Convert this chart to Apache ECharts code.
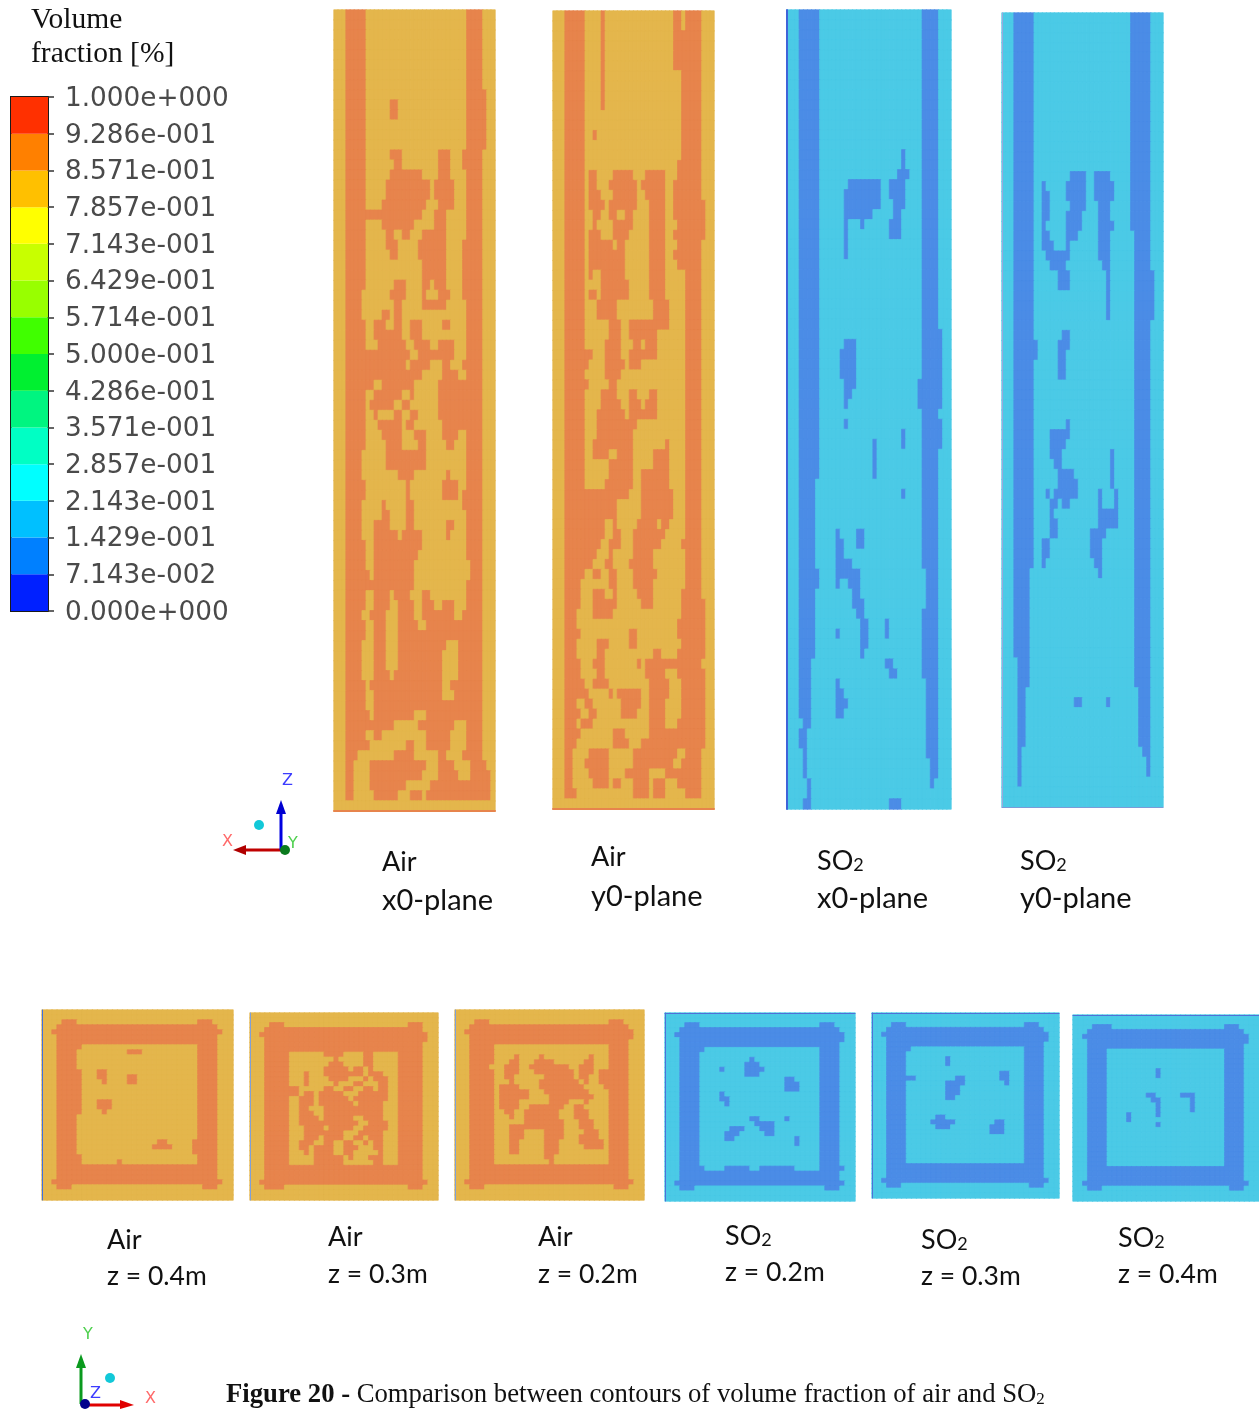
<!DOCTYPE html>
<html><head><meta charset="utf-8">
<style>html,body{margin:0;padding:0;background:#fff}#c{width:1259px;height:1409px}</style>
<script src="https://cdn.jsdelivr.net/npm/echarts@6/dist/echarts.min.js"></script>
</head><body><div id="c"></div>
<script>
// Level values of the contour bands
const AIR_LOW = 0.82, AIR_HIGH = 0.89, SO2_LOW = 0.18, SO2_HIGH = 0.11;
const COLOR_AIR_LOW = '#E4B64C', COLOR_AIR_HIGH = '#E7844C', COLOR_SO2_LOW = '#4BCAE6', COLOR_SO2_HIGH = '#4B8CE6';

// Each row lists the cell ranges (start-end, end exclusive) that hold the higher band; all others hold the lower band.
const airX0 = ["3-8,33-37","3-8,33-37","3-8,33-37","3-8,33-37","3-8,33-37","3-8,33-37","3-8,33-37","3-8,33-37","3-8,33-38",
"3-8,14-16,33-38","3-8,14-16,33-38","3-8,33-38","3-8,33-38","3-8,33-38","3-8,14-17,26-29,32-37","3-8,15-17,26-29,32-37",
"3-8,14-22,26-29,33-37","3-8,13-24,25-30,33-37","3-8,13-24,25-30,33-37","3-8,12-23,26-30,33-37","3-22,25-28,33-37",
"3-8,12-20,25-28,33-37","3-8,13-15,17-19,22-28,33-37","3-8,13-16,21-28,32-37","3-8,14-16,21-28,32-37","3-8,22-28,32-37",
"3-8,22-28,32-37","3-8,15-18,22-24,25-28,32-37","3-7,14-18,22-23,26-29,32-37","3-7,15-17,22-28,33-37","3-7,12-14,15-17,33-37",
"3-8,10-13,15-17,19-22,27-29,33-37","3-8,10-17,19-22,33-37","3-8,11-18,20-24,26-30,33-37","3-19,21-30,33-37",
"3-18,19-24,27-29,32-37","3-22,27-31,33-37","3-10,12-20,26-37","3-8,10-17,19-20,26-37","3-8,9-15,17-19,26-37",
"3-8,10-11,15-17,19-21,26-37","3-8,11-17,18-20,27-37","3-8,12-17,20-23,27-31,33-37","3-8,13-17,21-23,28-30,33-37",
"3-7,13-23,33-37","3-7,13-23,33-37","3-7,16-20,28-29,33-37","3-8,18-19,27-31,33-37","3-8,18-19,27-31,32-37",
"3-7,12-13,18-20,32-37","3-7,12-14,18-20,33-37","3-7,10-14,18-20,28-30,33-37","3-7,10-16,17-22,28-29,33-37","3-8,10-22,33-37",
"3-8,10-21,33-37","3-8,10-20,34-37","3-9,10-20,34-37","3-20,33-37","3-8,10-14,15-19,22-24,33-37","3-8,10-14,16-20,22-25,27-30,33-37",
"3-7,9-13,16-20,22-30,32-37","3-8,10-13,16-21,23-37","3-8,10-13,16-37","3-7,10-13,16-28,31-37","3-7,10-13,16-27,31-37",
"3-7,10-13,16-27,31-37","3-7,10-14,15-27,31-37","3-8,9-27,29-37","3-8,10-27,30-37","3-8,10-37","3-9,10-20,23-37",
"3-15,21-30,33-37","3-8,10-12,23-29,33-37","3-9,18-20,23-29,33-37","3-6,15-20,26-28,32-37","3-5,9-23,26-30,34-38",
"3-5,9-22,26-31,34-39","3-5,9-18,24-39","3-5,10-16,19-22,23-39",""];

const airY0 = ["3-8,12-13,30-32,33-37","3-8,12-13,30-32,33-37","3-8,12-13,30-37","3-8,12-13,30-37","3-8,12-13,30-37","3-8,12-13,30-37",
"3-8,12-13,32-37","3-8,12-13,32-37","3-8,12-13,32-37","3-8,12-13,32-37","3-8,32-37","3-8,32-37","3-8,10-11,32-37","3-8,32-37","3-8,32-37",
"3-8,31-37","3-8,9-11,15-20,23-28,31-37","3-8,9-11,14-21,22-28,30-37","3-8,9-12,15-21,23-28,30-37","3-8,9-13,14-21,24-28,30-38",
"3-8,10-12,14-16,18-20,24-28,30-38","3-8,10-11,15-20,24-28,31-38","3-8,9-12,15-19,24-28,30-38","3-8,9-15,16-18,24-28,31-37",
"3-8,9-18,24-28,30-37","3-8,9-18,24-28,31-37","3-8,9-10,12-18,24-28,33-37","3-8,12-19,24-28,33-37","3-8,9-11,12-19,24-28,33-37",
"3-8,11-16,25-29,33-37","3-8,11-16,25-29,33-37","3-8,14-17,19-25,25-29,33-37","3-8,14-17,19-26,33-37","3-8,13-17,20-22,23-26,33-37",
"3-10,13-17,19-26,33-37","3-9,13-18,19-22,33-37","3-8,13-17,33-37","3-9,14-16,33-37","3-8,12-16,19-21,24-26,33-37",
"3-8,12-17,19-22,23-26,33-37","3-8,11-18,19-26,33-37","3-8,11-21,33-37","3-8,11-20,33-37","3-8,10-20,28-29,33-37",
"3-8,10-14,16-20,25-29,33-37","3-8,14-20,25-29,33-37","3-8,14-20,22-29,33-37","3-8,13-20,22-29,33-37","3-19,22-30,33-37",
"3-16,22-30,33-37","3-16,22-30,33-37","3-13,15-16,21-26,27-29,33-37","3-13,15-17,20-28,33-37","3-12,14-17,20-27,32-37",
"3-11,14-15,20-25,33-37","3-10,13-15,19-25,33-37","3-8,10-12,14-16,20-26,33-37","3-7,14-16,20-25,33-37","3-7,10-13,15-16,21-25,32-37",
"3-7,10-16,22-25,32-38","3-6,10-15,32-38","3-6,31-38","3-7,19-21,31-38","3-6,11-14,19-21,32-38","3-6,11-13,25-27,31-38",
"3-7,10-13,21-22,23-37","3-7,11-13,23-28,31-38","3-8,10-14,24-29,32-38","3-9,14-15,16-22,24-29,32-38","3-6,8-10,17-22,24-28,32-38",
"3-7,9-11,17-21,24-28,32-38","3-6,7-10,24-28,31-38","3-7,15-18,24-38","3-6,15-19,22-38","3-5,9-14,20-31,33-37","3-5,8-14,20-30,32-37",
"3-5,9-14,18-24,28-37","3-5,10-14,15-17,20-24,25-28,31-37","3-6,20-24,25-28,33-37",""];

const so2X0 = ["3-8,33-37","3-8,33-37","3-8,33-37","3-8,33-37","3-8,33-37","3-8,33-37","3-8,33-37","3-8,33-37","3-8,33-37","3-8,33-37",
"3-8,33-37","3-8,33-37","3-8,33-37","3-8,33-37","3-8,28-29,33-37","3-8,28-29,33-37","3-8,27-30,33-37","3-8,15-23,25-29,33-37",
"3-8,14-23,25-29,33-37","3-8,14-23,26-29,33-37","3-8,14-21,26-28,33-37","3-8,14-15,18-19,25-28,33-37","3-8,14-15,25-28,33-37",
"3-8,14-15,33-37","3-8,14-15,33-37","3-8,33-37","3-8,33-37","3-8,33-37","3-8,33-37","3-8,33-37","3-8,33-37","3-8,33-37","3-8,33-38",
"3-8,14-17,33-38","3-8,13-17,33-38","3-8,13-17,33-38","3-8,13-17,33-38","3-8,14-17,32-38","3-8,14-16,32-38","3-8,14-15,32-38",
"3-8,33-37","3-8,14-15,33-38","3-8,28-29,33-38","3-8,21-22,28-29,33-38","3-8,21-22,33-37","3-8,21-22,33-37","3-8,21-22,33-37",
"3-7,33-37","3-7,28-29,33-37","3-7,33-37","3-7,33-37","3-7,33-37","3-7,12-13,17-19,33-37","3-7,12-14,17-19,33-37","3-7,12-14,33-37",
"3-7,12-16,33-37","3-8,12-18,34-37","3-8,12-13,15-18,34-37","3-7,16-18,34-37","3-7,16-19,34-37","3-7,17-19,33-37","3-7,18-20,24-25,33-37",
"3-7,12-13,18-20,24-25,33-37","3-7,18-20,33-37","3-7,18-19,33-37","3-6,24-26,33-37","3-6,25-27,33-37","3-6,12-13,34-37","3-6,12-14,34-37",
"3-6,12-15,34-37","3-6,12-14,34-37","4-6,34-37","3-5,34-37","3-5,34-37","4-5,34-37","4-5,35-37","4-5,35-37","5-6,35-36","5-6","4-6,25-28"];

const so2Y0 = ["3-8,32-37","3-8,32-37","3-8,32-37","3-8,32-37","3-8,32-37","3-8,32-37","3-8,32-37","3-8,32-37","3-8,32-37","3-8,32-37",
"3-8,32-37","3-8,32-37","3-8,32-37","3-8,32-37","3-8,32-37","3-8,32-37","3-8,17-21,23-27,32-37","3-8,10-11,16-21,23-28,32-37",
"3-8,10-12,16-21,23-28,32-37","3-8,10-12,17-21,24-27,32-37","3-8,10-12,16-20,24-27,32-37","3-8,10-11,16-20,24-28,32-37",
"3-8,10-12,16-19,24-27,33-37","3-8,10-13,16-17,24-27,33-37","3-8,11-17,24-27,33-37","3-8,12-16,25-27,33-37","3-8,14-17,26-27,33-38",
"3-8,14-17,26-27,33-38","3-8,26-27,33-38","3-8,26-27,33-38","3-8,26-27,33-38","3-8,33-37","3-8,15-17,33-37","3-9,14-17,33-37",
"3-9,14-16,33-37","3-8,14-16,33-37","3-8,14-16,33-37","3-8,33-37","3-8,33-37","3-8,33-37","3-8,33-37","3-8,16-17,33-37","3-8,12-17,33-37",
"3-8,12-16,33-37","3-8,12-15,27-28,33-37","3-8,13-15,27-28,33-37","3-8,14-18,27-28,33-37","3-8,14-19,27-28,33-37",
"3-8,11-12,13-19,24-25,28-29,33-37","3-8,12-14,15-17,24-25,28-29,33-37","3-8,12-13,24-29,33-37","3-8,12-14,24-29,33-37",
"3-8,12-14,22-26,33-37","3-8,10-12,22-25,33-37","3-8,10-12,22-25,33-37","3-8,10-11,23-25,33-37","3-7,24-25,33-37","3-7,33-37","3-7,33-37",
"3-7,33-37","3-7,33-37","3-7,33-37","3-7,33-37","3-7,33-37","3-7,33-37","4-7,33-37","4-7,33-37","4-7,33-37","4-6,34-37","4-6,18-20,26-27,34-37",
"4-6,34-37","4-6,34-37","4-6,34-37","4-6,34-37","4-5,35-37","4-5,36-37","4-5,36-37","4-5","",""];

const airZ04 = ["","","4-7,31-34","3-35","2-36","3-35","3-35","3-8,31-35","3-7,17-20,31-35","3-7,31-35","3-7,31-35","3-7,31-35","3-8,11-13,31-35",
"3-8,11-13,17-19,31-35","3-8,12-13,17-19,31-35","3-8,31-35","3-8,31-35","3-8,31-35","3-8,11-14,31-35","3-8,11-14,31-35","3-8,12-13,31-35",
"3-7,31-35","3-7,31-35","3-7,31-35","3-7,31-35","3-7,31-35","3-7,23-25,30-35","3-7,22-26,30-35","3-7,30-35","3-8,31-35","3-8,15-16,31-35",
"3-35","3-35","3-35","2-36","3-6,32-35","",""];

const airZ03 = ["","","4-7,32-35","3-35","2-36","3-36","3-35","3-35","3-8,15-19,23-25,30-35","3-8,17-18,23-25,30-35","3-8,16-19,23-25,30-35",
"3-8,15-20,21-23,24-25,30-35","3-8,11-12,15-21,21-23,24-27,30-35","3-8,11-12,16-20,23-24,25-28,30-35","3-8,11-12,17-18,21-23,26-28,30-35",
"3-10,15-17,19-21,23-25,26-28,30-35","3-10,11-13,14-19,22-28,30-35","3-8,10-13,14-20,21-28,30-35","3-8,10-13,14-21,22-27,30-35",
"3-8,10-12,15-27,30-35","3-8,10-13,15-27,30-35","3-8,10-14,15-21,23-27,30-35","3-8,10-15,15-22,24-28,30-35","3-8,11-15,16-21,23-28,30-35",
"3-8,11-19,22-27,30-35","3-8,11-14,15-19,21-23,24-27,30-35","3-8,10-13,15-17,19-21,23-24,25-27,30-35","3-8,10-12,13-17,19-22,25-27,30-35",
"3-8,11-12,13-17,19-21,26-27,30-35","3-8,13-19,20-21,24-27,30-35","3-8,13-19,25-27,30-35","3-35","3-35","3-35","2-36","3-7,32-35","",""];

const airZ02 = ["","","4-7,31-34","3-35","2-36","3-36","3-35","3-8,31-35","3-8,31-35","3-8,12-13,17-18,27-28,31-35","3-8,11-13,16-20,26-28,31-35",
"3-7,10-13,15-23,25-28,31-35","3-8,10-13,16-24,25-28,29-35","3-8,10-12,18-24,25-27,29-35","3-8,11-12,17-25,26-27,29-35","3-8,9-13,17-26,30-35",
"3-8,9-15,18-27,31-35","3-8,9-15,19-28,31-35","3-8,9-13,19-23,26-27,31-35","3-8,9-13,15-22,24-26,31-35","3-8,10-12,14-21,24-27,31-35",
"3-8,11-12,14-21,24-27,31-35","3-8,14-22,25-28,31-35","3-8,11-22,25-28,31-35","3-8,11-14,18-22,26-29,31-35","3-8,11-14,18-22,25-29,31-35",
"3-8,11-13,18-21,25-30,31-35","3-8,11-13,18-21,26-30,31-35","3-8,11-13,18-21,31-35","3-8,18-20,31-35","3-8,19-20,31-35",
"3-35","3-35","3-35","2-36","3-6,32-35","",""];

const so2Z02 = ["","","4-7,31-34","3-35","2-36","3-36","3-35","3-8,31-35","3-7,31-35","3-7,17-18,31-35","3-7,16-19,31-35","3-7,11-12,16-20,31-35",
"3-7,16-19,31-35","3-7,24-26,31-35","3-7,24-27,31-35","3-7,24-27,31-35","3-7,11-12,31-35","3-7,11-13,31-35","3-7,12-13,31-35","3-7,31-35","3-7,31-35",
"3-7,17-19,24-25,31-35","3-7,18-22,31-35","3-7,13-16,19-22,31-35","3-7,12-15,20-22,31-35","3-7,12-14,26-27,31-35","3-7,26-27,31-35","3-7,31-35",
"3-7,31-35","3-7,31-35","3-7,31-35","3-8,12-17,19-26,31-36","3-35","3-35","2-36","3-6,32-35","",""];

const so2Z03 = ["","","4-7,31-34","3-35","2-36","3-36","3-35","3-8,31-35","3-7,31-35","3-7,15-16,31-35","3-7,15-16,31-35","3-7,31-35","3-7,26-28,31-35",
"3-9,17-19,26-28,31-35","3-7,15-19,27-28,31-35","3-7,15-18,31-35","3-7,15-18,31-35","3-7,15-17,31-35","3-7,31-35","3-7,31-35","3-7,31-35",
"3-7,13-15,31-35","3-7,12-17,25-27,31-35","3-7,13-16,24-27,31-35","3-7,24-27,31-35","3-7,31-35","3-7,31-35","3-7,31-35","3-7,31-35","3-7,31-35",
"3-7,31-35","3-35","3-35","3-35","2-36","3-6,32-35","",""];

const so2Z04 = ["","","4-8,31-34","3-35","2-36","3-36","3-35","3-7,31-35","3-7,31-35","3-7,31-35","3-7,31-35","3-7,17-18,31-35","3-7,17-18,31-35",
"3-7,31-35","3-7,31-35","3-7,31-35","3-7,15-17,22-25,31-35","3-7,16-18,24-25,31-35","3-7,17-18,24-25,31-35","3-7,17-18,24-25,31-35",
"3-7,11-12,17-18,31-35","3-7,11-12,31-35","3-7,17-18,31-35","3-7,31-35","3-7,31-35","3-7,31-35","3-7,31-35","3-7,31-35","3-7,31-35","3-7,31-35",
"3-7,31-35","3-35","3-35","3-35","2-36","3-6,32-35","",""];

// Colour scale of the legend
const legendTickLabels = ["0.000e+000","7.143e-002","1.429e-001","2.143e-001","2.857e-001","3.571e-001","4.286e-001","5.000e-001","5.714e-001","6.429e-001","7.143e-001","7.857e-001","8.571e-001","9.286e-001","1.000e+000"];
const legendLevels = [0.07143,0.07143,0.07143,0.07143,0.07143,0.07143,0.07143,0.07143,0.07143,0.07143,0.07143,0.07143,0.07143,0.07143];
const legendColors = ["#0020FF","#0080FF","#00C0FF","#00FFFF","#00FFC4","#00F580","#00F030","#40FF00","#98FF00","#C8FF00","#FFFF00","#FFC000","#FF8000","#FF3000"];

// Panels: mask, columns, band levels, placement
const panels = [
 {rows:airX0,cols:40,n:80,lo:AIR_LOW,hi:AIR_HIGH,cl:COLOR_AIR_LOW,ch:COLOR_AIR_HIGH,box:[334,10,161,801],bottom:[COLOR_AIR_HIGH,2]},
 {rows:airY0,cols:40,n:80,lo:AIR_LOW,hi:AIR_HIGH,cl:COLOR_AIR_LOW,ch:COLOR_AIR_HIGH,box:[553,11,161,798],bottom:[COLOR_AIR_HIGH,2]},
 {rows:so2X0,cols:40,n:80,lo:SO2_LOW,hi:SO2_HIGH,cl:COLOR_SO2_LOW,ch:COLOR_SO2_HIGH,box:[787,10,164,799],left:['#3F63D8',2]},
 {rows:so2Y0,cols:40,n:80,lo:SO2_LOW,hi:SO2_HIGH,cl:COLOR_SO2_LOW,ch:COLOR_SO2_HIGH,box:[1002,13,161,794],left:['#9AA8DC',1],bottom:['#7C9BD8',1]},
 {rows:airZ04,cols:38,n:38,lo:AIR_LOW,hi:AIR_HIGH,cl:COLOR_AIR_LOW,ch:COLOR_AIR_HIGH,box:[42,1010,191,190],left:['#3F6FE0',1]},
 {rows:airZ03,cols:38,n:38,lo:AIR_LOW,hi:AIR_HIGH,cl:COLOR_AIR_LOW,ch:COLOR_AIR_HIGH,box:[250,1013,188,187],left:['#7FA0D8',1]},
 {rows:airZ02,cols:38,n:38,lo:AIR_LOW,hi:AIR_HIGH,cl:COLOR_AIR_LOW,ch:COLOR_AIR_HIGH,box:[455,1010,189,190],left:['#7FA0D8',1]},
 {rows:so2Z02,cols:38,n:38,lo:SO2_LOW,hi:SO2_HIGH,cl:COLOR_SO2_LOW,ch:COLOR_SO2_HIGH,box:[665,1013,190,188],left:['#4F70D8',1],top:['#4F70D8',1]},
 {rows:so2Z03,cols:38,n:38,lo:SO2_LOW,hi:SO2_HIGH,cl:COLOR_SO2_LOW,ch:COLOR_SO2_HIGH,box:[872,1013,187,185],left:['#4F70D8',1],top:['#4F70D8',1]},
 {rows:so2Z04,cols:38,n:38,lo:SO2_LOW,hi:SO2_HIGH,cl:COLOR_SO2_LOW,ch:COLOR_SO2_HIGH,box:[1073,1015,186,186],top:['#4F70D8',1]}
];

// Text labels under the panels: first line, second line, x, y1, y2, second-line font size
const LATO = 'Lato';
const panelLabels = [
 ['Air','x0-plane',382,862,901,29],['Air','y0-plane',591,857,897,29],['SO2','x0-plane',817,861,899,29],['SO2','y0-plane',1020,861,899,29],
 ['Air','z = 0.4m',107,1240,1276,26.5],['Air','z = 0.3m',328,1237,1274,26.5],['Air','z = 0.2m',538,1237,1274,26.5],
 ['SO2','z = 0.2m',725,1236,1272,26.5],['SO2','z = 0.3m',921,1240,1276,26.5],['SO2','z = 0.4m',1118,1238,1274,26.5]
];

function cellsFromRows(p){
  const out=[];
  for(let r=0;r<p.n;r++){
    const line=new Array(p.cols).fill(false);
    (p.rows[r]||'').split(',').filter(Boolean).forEach(s=>{
      const [a,b]=s.split('-').map(Number);
      for(let c=a;c<b&&c<p.cols;c++) line[c]=true;
    });
    for(let c=0;c<p.cols;c++) out.push({value:[c,r,line[c]?p.hi:p.lo],itemStyle:{color:line[c]?p.ch:p.cl,borderColor:line[c]?p.ch:p.cl,borderWidth:0.7}});
  }
  return out;
}
const idx=n=>Array.from({length:n},(_,i)=>i);
const grid=[],xAxis=[],yAxis=[],series=[];
panels.forEach((p,i)=>{
  grid.push({left:p.box[0],top:p.box[1],width:p.box[2],height:p.box[3],containLabel:false});
  const xl=p.bottom||p.top;
  xAxis.push({type:'category',gridIndex:i,data:idx(p.cols),z:10,position:p.top?'top':'bottom',
    axisLabel:{show:false},axisTick:{show:false},splitLine:{show:false},splitArea:{show:false},
    axisLine:{show:!!xl,onZero:false,lineStyle:xl?{color:xl[0],width:xl[1]}:{}}});
  yAxis.push({type:'category',gridIndex:i,inverse:true,data:idx(p.n),z:10,
    axisLabel:{show:false},axisTick:{show:false},splitLine:{show:false},splitArea:{show:false},
    axisLine:{show:!!p.left,onZero:false,lineStyle:p.left?{color:p.left[0],width:p.left[1]}:{}}});
  series.push({type:'heatmap',xAxisIndex:i,yAxisIndex:i,data:cellsFromRows(p),
    progressive:0,silent:true,animation:false,emphasis:{disabled:true}});
});
const heatIdx=series.map((_,i)=>i);
// Legend colour bar
const g=panels.length;
grid.push({left:11,top:97,width:37,height:514,show:true,borderColor:'#1a1a1a',borderWidth:2,backgroundColor:'#fff',containLabel:false});
xAxis.push({type:'category',gridIndex:g,data:['band'],axisLabel:{show:false},axisTick:{show:false},axisLine:{show:false},splitLine:{show:false}});
yAxis.push({type:'value',gridIndex:g,position:'right',min:0,max:1,interval:1/14,
  axisLine:{show:false},splitLine:{show:false},
  axisTick:{show:true,length:6,lineStyle:{color:'#333',width:1.5}},
  axisLabel:{show:true,margin:17,color:'#4a4a4a',fontFamily:'DejaVu Sans',fontSize:26.3,verticalAlign:'top',lineHeight:4,showMinLabel:true,showMaxLabel:true,
    formatter:v=>legendTickLabels[Math.round(v*14)]||''}});
legendLevels.forEach((v,i)=>series.push({type:'bar',xAxisIndex:g,yAxisIndex:g,stack:'legend',barWidth:'100%',data:[v],
  itemStyle:{color:legendColors[i]},silent:true,animation:false}));

// Text and orientation triads
const graphic=[];
function txt(x,y,text,font,fill,rich){
  graphic.push({type:'text',x,y,silent:true,z:50,style:{text,font,fill:fill||'#111',verticalAlign:'middle',align:'left',rich}});
}
txt(31,20,'Volume','29.5px "Liberation Serif"','#111');
txt(31,54,'fraction [%]','29.5px "Liberation Serif"','#111');
const labelFont='27px '+LATO;
function firstLine(s){return s==='SO2'?'{m|SO}{s|2}':s;}
const labelRich={m:{font:labelFont,fill:'#111'},s:{font:'18px '+LATO,fill:'#111',verticalAlign:'bottom'}};
panelLabels.forEach(l=>{
  txt(l[2],l[3],firstLine(l[0]),labelFont,'#111',labelRich);
  txt(l[2],l[4],l[1],l[5]+'px '+LATO,'#111');
});
txt(226,1395,'{b|Figure 20 - }{r|Comparison between contours of volume fraction of air and SO}{s|2}','26.7px "Liberation Serif"','#111',{
  b:{font:'bold 26.7px "Liberation Serif"',fill:'#111'},
  r:{font:'26.7px "Liberation Serif"',fill:'#111'},
  s:{font:'17px "Liberation Serif"',fill:'#111',verticalAlign:'bottom'}
});
function line(x1,y1,x2,y2,c,w){graphic.push({type:'line',silent:true,z:50,shape:{x1,y1,x2,y2},style:{stroke:c,lineWidth:w}});}
function head(pts,c){graphic.push({type:'polygon',silent:true,z:51,shape:{points:pts},style:{fill:c}});}
function dot(cx,cy,r,c){graphic.push({type:'circle',silent:true,z:52,shape:{cx,cy,r},style:{fill:c}});}
line(281,850,245,850,'#C00000',3);head([[233,850],[246,845],[246,855]],'#B00000');
line(281,850,281,812,'#0000E0',3);head([[281,800],[276,814],[286,814]],'#0000D0');
dot(285,850,5,'#0A7A1E');dot(259,825,5,'#12C8D8');
txt(282,781,'Z','16px "DejaVu Sans"','#3C3CFF');txt(222,842,'X','16px "DejaVu Sans"','#FF6A6A');txt(288,844,'Y','16px "DejaVu Sans"','#4FD04F');
line(81,1404,81,1366,'#0A9A1E',3);head([[81,1354],[76,1368],[86,1368]],'#0A9A1E');
line(86,1405,122,1405,'#E00000',3);head([[134,1405],[120,1400],[120,1409]],'#E00000');
dot(85,1404,5,'#00008C');dot(110,1378,5,'#12C8D8');
txt(83,1335,'Y','16px "DejaVu Sans"','#4FD04F');txt(90,1394,'Z','16px "DejaVu Sans"','#3C3CFF');txt(145,1399,'X','16px "DejaVu Sans"','#FF6A6A');

const chart=echarts.init(document.getElementById('c'),null,{renderer:'canvas'});
chart.setOption({animation:false,backgroundColor:'#fff',grid,xAxis,yAxis,series,graphic,
  visualMap:{type:'piecewise',show:false,seriesIndex:heatIdx,pieces:[
    {value:AIR_LOW,color:COLOR_AIR_LOW},{value:AIR_HIGH,color:COLOR_AIR_HIGH},
    {value:SO2_LOW,color:COLOR_SO2_LOW},{value:SO2_HIGH,color:COLOR_SO2_HIGH}]}
});
</script></body></html>
